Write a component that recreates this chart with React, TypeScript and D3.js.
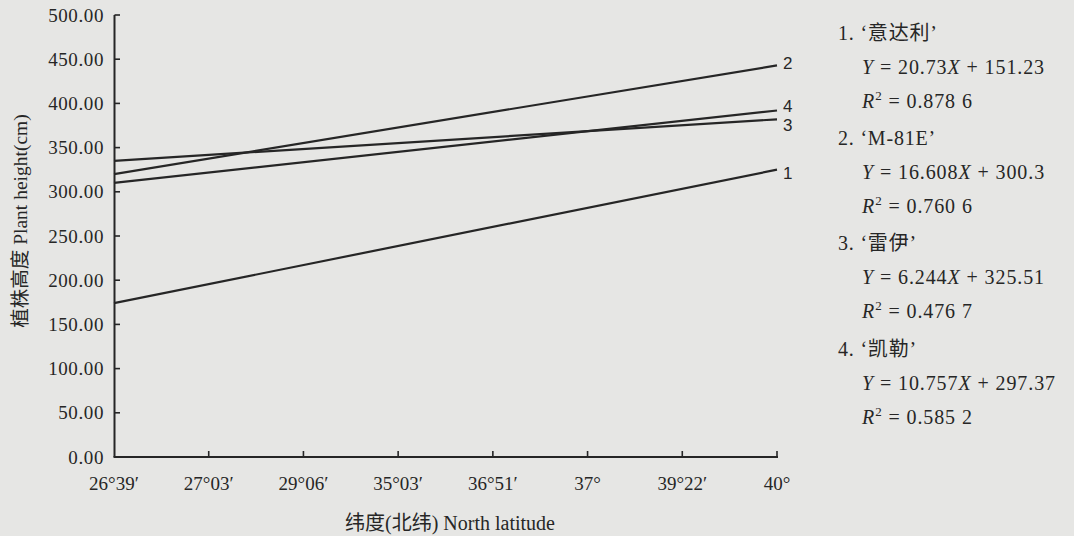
import React from "react";
import * as d3 from "d3";

const categories = ["26°39′", "27°03′", "29°06′", "35°03′", "36°51′", "37°", "39°22′", "40°"];
const yTicks = [0, 50, 100, 150, 200, 250, 300, 350, 400, 450, 500];
// fitted line values at the first and last latitude
const lineIds = ["1", "2", "3", "4"];
const series1 = [174, 325];
const series2 = [320, 443];
const series3 = [335, 382];
const series4 = [310, 392];
const seriesAll = [series1, series2, series3, series4];
const cultivars = ["‘意达利’", "‘M-81E’", "‘雷伊’", "‘凯勒’"];
const slopes = ["20.73", "16.608", "6.244", "10.757"];
const intercepts = ["151.23", "300.3", "325.51", "297.37"];
const r2s = ["0.878 6", "0.760 6", "0.476 7", "0.585 2"];

const W = 1074;
const H = 536;
const serif = "'Liberation Serif', 'DejaVu Serif', serif";
const cjk = "'Liberation Serif', 'Noto Sans CJK SC', serif";
const ink = "#262626";

export default function App() {
  const x = d3.scalePoint<string>().domain(categories).range([114, 777]);
  const y = d3.scaleLinear().domain([0, 500]).range([457, 15]);
  const line = d3
    .line<number>()
    .x((_, i) => x(i === 0 ? categories[0] : categories[categories.length - 1]) as number)
    .y((d) => y(d));
  const fmt = d3.format(".2f");
  const lastX = x(categories[categories.length - 1]) as number;
  const labelOffsets = [3, -2, 6, -4];

  return (
    <svg
      width={W}
      height={H}
      style={{ position: "absolute", left: 0, top: 0, background: "#e6e6e4" }}
    >
      <rect x={0} y={0} width={W} height={H} fill="#e6e6e4" />
      {/* axes */}
      <line x1={114.5} x2={114.5} y1={y(500)} y2={y(0)} stroke={ink} strokeWidth={2} />
      <line x1={113.5} x2={778} y1={y(0)} y2={y(0)} stroke={ink} strokeWidth={2.2} />
      {yTicks.map((t) => (
        <g key={t}>
          <line x1={114.5} x2={120} y1={y(t)} y2={y(t)} stroke={ink} strokeWidth={1.6} />
          <text
            x={104}
            y={y(t)}
            dy="0.35em"
            textAnchor="end"
            fontFamily={serif}
            fontSize={19}
            letterSpacing={0.6}
            fill={ink}
          >
            {fmt(t)}
          </text>
        </g>
      ))}
      {categories.map((c, i) => (
        <g key={c}>
          {i > 0 && (
            <line
              x1={x(c) as number}
              x2={x(c) as number}
              y1={y(0)}
              y2={y(0) - 6}
              stroke={ink}
              strokeWidth={1.6}
            />
          )}
          <text
            x={x(c) as number}
            y={490}
            textAnchor="middle"
            fontFamily={serif}
            fontSize={19}
            fill={ink}
          >
            {c}
          </text>
        </g>
      ))}
      <text x={450} y={530} textAnchor="middle" fontFamily={cjk} fontSize={20} fill={ink}>
        纬度(北纬) North latitude
      </text>
      <text
        transform="translate(27,221) rotate(-90)"
        textAnchor="middle"
        fontFamily={cjk}
        fontSize={19.5}
        fill={ink}
      >
        植株高度 Plant height(cm)
      </text>
      {/* lines */}
      {seriesAll.map((s, i) => (
        <g key={lineIds[i]}>
          <path d={line(s) as string} fill="none" stroke={ink} strokeWidth={2.2} />
          <text
            x={lastX + 6}
            y={y(s[1]) + labelOffsets[i]}
            dy="0.35em"
            fontFamily="'Liberation Sans', 'DejaVu Sans', sans-serif"
            fontSize={17}
            fill={ink}
          >
            {lineIds[i]}
          </text>
        </g>
      ))}
      {/* equations */}
      {cultivars.map((name, i) => {
        const top = 33 + i * 105.2;
        return (
          <g key={name} fontFamily={cjk} fontSize={20} fill={ink}>
            <text x={838} y={top} dy="0.35em" letterSpacing={0.8}>
              {`${i + 1}. ${name}`}
            </text>
            <text x={862} y={top + 34} dy="0.35em" letterSpacing={0.9}>
              <tspan fontStyle="italic">Y</tspan>
              {` = ${slopes[i]}`}
              <tspan fontStyle="italic">X</tspan>
              {` + ${intercepts[i]}`}
            </text>
            <text x={862} y={top + 68} dy="0.35em" letterSpacing={0.9}>
              <tspan fontStyle="italic">R</tspan>
              <tspan fontSize={13} dy="-8">
                2
              </tspan>
              <tspan dy="8">{` = ${r2s[i]}`}</tspan>
            </text>
          </g>
        );
      })}
    </svg>
  );
}
